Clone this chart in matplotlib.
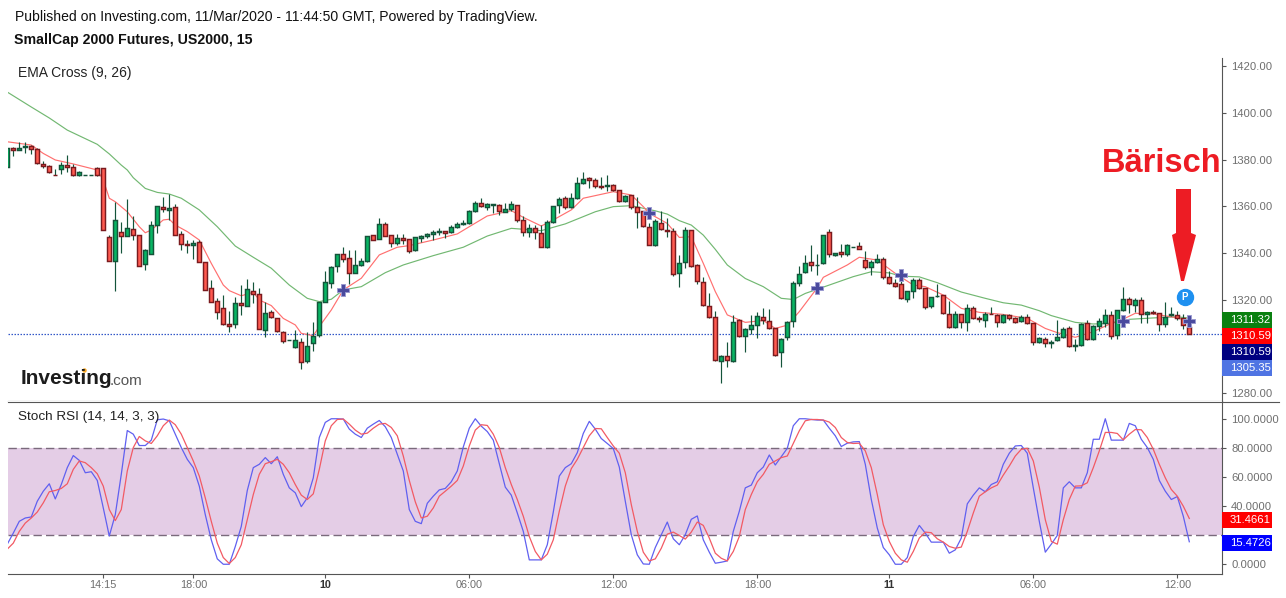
import matplotlib
matplotlib.use("Agg")
import matplotlib.pyplot as plt
from matplotlib.patches import Rectangle, Polygon
from matplotlib.lines import Line2D

plt.rcParams['font.family'] = ['Liberation Sans', 'DejaVu Sans']

# 15 minute candles
opens = [1376.9,1384.8,1384.2,1385.2,1385.8,1384.4,1377.9,1377.1,1373.5,1376.1,
 1377.5,1376.7,1373.2,1373.2,1373.2,1376.2,1376.2,1346.6,1336.4,1348.8,
 1347.4,1350.1,1347.5,1335.1,1339.7,1351.8,1359.5,1358.5,1359.5,1347.9,
 1343.6,1343.5,1344.5,1335.9,1324.8,1319.2,1316.2,1309.4,1309.4,1318.4,
 1317.1,1323.5,1322.2,1306.8,1314.5,1311.9,1305.9,1302.5,1299.5,1301.6,
 1293.5,1301.2,1304.6,1318.8,1326.9,1334.2,1339.4,1337.6,1331.5,1334.6,
 1336.6,1347.5,1345.8,1352.2,1347.5,1344.1,1346.2,1345.8,1341.1,1346.2,
 1347.1,1347.9,1349.1,1349.2,1348.8,1350.9,1352.2,1352.6,1357.8,1361.2,
 1359.5,1360.5,1360.4,1357.6,1358.6,1360.4,1353.9,1348.8,1350.5,1348.4,
 1342.4,1353.1,1360.4,1363.4,1359.5,1363.4,1369.8,1371.9,1371.1,1368.5,
 1368.5,1368.9,1366.8,1362.1,1364.6,1359.5,1357.8,1350.9,1343.5,1352.6,
 1349.8,1349.2,1331.2,1335.9,1349.6,1334.6,1327.4,1317.1,1312.4,1293.5,
 1295.6,1293.5,1311.1,1304.2,1307.2,1308.9,1312.4,1310.6,1307.6,1297.4,
 1303.8,1310.6,1326.9,1331.6,1335.9,1334.6,1335.5,1348.8,1338.9,1340.2,
 1339.4,1342.4,1342.8,1336.8,1333.8,1335.9,1337.2,1329.5,1326.9,1326.5,
 1320.1,1323.5,1328.2,1324.8,1317.1,1321.3,1321.8,1313.6,1308.1,1313.6,
 1310.2,1316.2,1311.9,1311.1,1313.8,1313.2,1310.2,1313.2,1311.9,1310.6,
 1312.4,1309.8,1301.6,1302.9,1301.2,1302.5,1303.8,1307.6,1299.9,1300.4,
 1309.8,1302.9,1308.5,1309.8,1313.2,1304.6,1315.4,1320.1,1317.5,1319.6,
 1313.6,1314.5,1314.1,1309.4,1313.2,1313.2,1311.9,1308.1]
highs = [1384.8,1385.5,1387.4,1387.4,1386.2,1384.8,1379.4,1377.5,1375.9,1379.1,
 1381.9,1377.9,1374.9,1373.2,1373.2,1376.7,1376.2,1347.6,1361.6,1353.1,
 1363.1,1355.6,1347.5,1341.5,1353.5,1359.9,1363.9,1365.1,1360.9,1349.2,
 1345.5,1345.5,1345.5,1335.9,1328.4,1320.5,1321.9,1315.1,1320.9,1326.2,
 1328.8,1327.5,1324.9,1318.8,1315.4,1311.9,1306.4,1302.5,1306.9,1303.4,
 1306.1,1310.2,1319.1,1332.2,1334.4,1339.4,1342.4,1341.2,1341.2,1337.8,
 1347.2,1347.5,1354.9,1353.2,1347.5,1348.1,1348.1,1345.8,1346.8,1347.5,
 1348.5,1349.6,1350.6,1349.2,1351.8,1353.1,1353.9,1358.4,1362.2,1363.5,
 1361.2,1360.9,1360.8,1361.2,1362.2,1360.4,1355.6,1352.2,1351.8,1352.1,
 1353.9,1360.2,1363.9,1364.2,1365.5,1372.6,1374.5,1372.6,1371.9,1372.4,
 1373.4,1369.4,1366.8,1364.8,1364.6,1363.8,1357.8,1352.6,1354.4,1357.8,
 1354.8,1350.6,1339.1,1351.2,1349.6,1335.1,1329.5,1322.6,1314.9,1296.1,
 1301.6,1313.2,1311.5,1307.6,1313.2,1314.6,1316.2,1315.8,1307.6,1303.4,
 1310.6,1327.9,1334.2,1338.9,1343.2,1339.4,1347.5,1350.1,1339.8,1343.6,
 1343.6,1342.4,1344.5,1340.6,1336.9,1339.4,1338.1,1332.1,1328.7,1330.5,
 1323.5,1329.1,1329.1,1324.8,1320.9,1326.5,1321.8,1319.2,1314.9,1313.6,
 1317.9,1317.2,1312.8,1314.5,1316.6,1313.6,1313.6,1313.6,1312.4,1313.2,
 1313.6,1309.8,1304.1,1303.8,1302.6,1311.1,1308.1,1308.5,1302.9,1309.8,
 1311.1,1308.9,1311.9,1315.8,1314.9,1315.4,1325.4,1320.9,1320.5,1320.9,
 1315.2,1315.4,1314.1,1318.8,1316.6,1314.9,1313.6,1308.1]
lows = [1376.9,1381.5,1384.1,1382.9,1382.4,1377.9,1376.5,1374.4,1373.2,1373.7,
 1374.8,1373.1,1373.1,1373.2,1373.2,1373.1,1349.6,1336.4,1323.8,1340.1,
 1347.4,1345.5,1334.2,1332.6,1339.4,1348.6,1357.5,1354.1,1347.5,1341.2,
 1339.9,1337.5,1335.9,1323.9,1318.8,1311.8,1309.2,1306.2,1307.9,1313.4,
 1317.1,1318.6,1307.2,1304.1,1312.2,1305.9,1301.5,1302.5,1299.4,1290.4,
 1292.6,1298.1,1303.8,1318.8,1325.1,1331.8,1336.1,1326.6,1331.5,1334.4,
 1336.2,1345.6,1345.8,1347.2,1342.6,1343.2,1343.8,1340.1,1340.9,1344.6,
 1346.2,1345.5,1347.8,1346.4,1348.5,1350.5,1352.1,1352.5,1357.6,1359.8,
 1358.4,1357.2,1356.2,1357.5,1358.1,1353.1,1347.4,1346.6,1345.9,1342.4,
 1342.2,1352.6,1356.9,1358.9,1359.4,1363.2,1369.6,1367.8,1367.6,1367.4,
 1366.6,1366.6,1361.9,1361.9,1358.6,1350.5,1351.2,1343.2,1343.1,1349.8,
 1346.6,1330.1,1325.5,1333.4,1334.1,1326.6,1317.4,1312.2,1293.8,1284.4,
 1291.2,1293.4,1304.1,1297.6,1305.1,1303.4,1309.5,1307.5,1295.9,1291.2,
 1302.6,1308.4,1325.9,1331.5,1332.4,1330.4,1335.4,1338.4,1338.8,1338.1,
 1338.8,1342.4,1341.5,1332.9,1330.4,1335.8,1328.8,1326.8,1325.4,1320.4,
 1319.1,1320.5,1324.6,1315.8,1316.2,1321.2,1313.9,1307.9,1307.9,1307.9,
 1306.6,1311.8,1310.2,1308.4,1313.6,1308.4,1309.8,1311.1,1310.1,1310.4,
 1309.6,1300.6,1301.5,1299.5,1299.4,1302.4,1303.6,1299.8,1298.1,1300.2,
 1302.8,1302.8,1306.6,1308.4,1303.2,1302.9,1315.2,1314.1,1314.6,1309.8,
 1309.8,1313.8,1306.6,1308.4,1313.1,1311.1,1307.4,1305.3]
closes = [1384.8,1384.2,1384.8,1385.8,1384.4,1378.4,1377.1,1374.5,1373.2,1377.5,
 1376.7,1373.2,1374.5,1373.2,1373.2,1373.2,1349.6,1336.4,1353.9,1347.4,
 1350.5,1347.8,1334.2,1341.1,1351.8,1359.9,1358.9,1359.1,1347.5,1343.6,
 1343.5,1344.1,1335.9,1323.9,1319.1,1314.5,1309.4,1308.8,1318.4,1317.5,
 1324.4,1322.5,1307.2,1314.1,1312.4,1306.4,1302.4,1302.5,1302.5,1293.1,
 1299.9,1304.2,1319.1,1327.4,1333.8,1339.4,1337.5,1331.5,1334.6,1336.4,
 1347.1,1345.6,1352.2,1347.4,1344.1,1346.2,1345.6,1340.9,1346.6,1347.1,
 1347.9,1348.8,1349.2,1348.6,1350.9,1352.2,1352.6,1357.8,1361.2,1359.9,
 1360.8,1360.8,1357.8,1358.6,1360.8,1353.9,1348.8,1350.5,1348.8,1342.6,
 1353.1,1359.9,1362.9,1359.5,1363.4,1369.8,1371.5,1371.1,1368.5,1368.1,
 1368.9,1366.8,1362.1,1364.2,1359.5,1357.4,1351.4,1343.5,1353.5,1350.1,
 1349.5,1331.1,1335.5,1349.6,1334.2,1327.8,1317.5,1312.4,1293.9,1295.6,
 1293.9,1310.2,1304.2,1307.2,1308.9,1312.8,1311.1,1307.6,1296.1,1302.9,
 1310.2,1326.9,1330.8,1335.5,1334.6,1334.6,1347.5,1339.4,1339.8,1339.4,
 1343.2,1342.4,1341.5,1333.8,1335.9,1337.2,1329.5,1326.9,1325.9,1320.5,
 1323.5,1328.2,1324.8,1316.7,1320.9,1321.4,1314.1,1308.1,1313.6,1310.2,
 1316.2,1311.9,1311.5,1313.6,1313.6,1310.2,1313.2,1311.9,1310.2,1312.4,
 1309.8,1301.6,1303.4,1301.2,1301.9,1303.8,1307.2,1299.9,1300.4,1309.4,
 1302.9,1308.5,1310.6,1313.2,1304.2,1315.4,1320.1,1317.9,1319.6,1313.6,
 1314.5,1314.1,1309.4,1312.4,1313.6,1311.9,1308.9,1305.4]

# EMA lines, read at the bars where they bend
ema9_bars = [0,4,6,8,11,15,16,17,18,20,22,23,24,26,27,28,30,32,34,36,37,39,41,42,44,46,48,49,51,52,54,
 56,59,62,65,67,71,75,77,80,84,86,89,91,94,96,101,104,106,107,110,112,114,116,118,120,123,126,128,130,
 132,135,136,140,142,145,148,151,153,156,159,162,166,170,173,175,178,181,184,186,188,191,194,197]
ema9_vals = [1387.6,1386.2,1382.6,1379.8,1378.1,1375.5,1371.2,1363.4,1361.9,1357.6,1351.2,1348.6,1349.8,1354.1,1354.4,1351.9,
 1349.1,1345.5,1335.5,1326.2,1323.8,1321.6,1323.1,1319.8,1317.4,1311.9,1309.1,1305.5,1304.5,1308.4,1315.5,
 1324.1,1329.1,1339.1,1342.4,1343.1,1345.5,1348.1,1351.2,1355.8,1358.1,1355.2,1351.5,1354.1,1358.4,1363.4,1366.2,1364.8,1359.8,
 1356.9,1352.6,1346.6,1346.9,1335.5,1323.4,1313.4,1310.2,1311.0,1307.6,1309.0,1314.8,1325.0,1329.5,1334.8,1338.1,1336.9,1331.2,
 1326.2,1325.5,1321.9,1316.2,1314.5,1313.6,1311.9,1307.6,1305.8,1303.8,1306.2,1309.8,1311.6,1314.1,1313.8,1312.6,1310.9]
ema26_bars = [0,4,7,10,15,17,19,20,21,23,25,27,29,32,35,38,41,44,47,50,52,54,56,59,63,66,71,76,80,84,89,93,98,101,104,
 108,110,112,114,116,118,120,123,126,129,131,133,137,141,144,147,149,152,155,159,163,166,169,172,174,178,181,184,187,191,195,197]
ema26_vals = [1408.9,1402.5,1397.8,1392.6,1386.5,1382.4,1377.6,1375.5,1372.2,1367.6,1365.9,1365.2,1363.4,1358.4,1351.2,1342.9,1338.1,1333.4,
 1326.2,1320.5,1319.1,1320.1,1324.1,1325.5,1331.5,1334.8,1338.8,1342.4,1347.2,1350.5,1349.5,1352.4,1357.6,1359.8,1360.2,
 1358.0,1356.6,1353.8,1351.9,1347.6,1341.5,1334.8,1329.0,1325.5,1320.5,1320.0,1322.6,1326.2,1329.8,1331.9,1331.4,1330.0,1329.7,
 1327.2,1323.2,1320.5,1318.6,1317.6,1315.2,1313.1,1310.2,1309.5,1309.8,1311.5,1312.1,1312.6,1312.0]

cross_bars = [56, 107, 135, 149, 186, 197]
cross_vals = [1324.0, 1357.0, 1325.0, 1330.5, 1311.0, 1310.7]

# Stoch RSI
stoch_k = [13.8,21.4,29.5,31.8,32.5,43.3,50.2,55.3,44.9,54.8,
 66.4,74.7,71.4,62.9,63.6,57.6,38.7,19.4,34.1,61.8,
 91.9,89.4,81.6,81.6,85.3,99.3,99.8,98.6,89.4,80.2,
 72.1,66.4,53.7,34.1,16.8,3.7,0,0,12.2,26.0,
 50.7,66.4,68.7,73.3,69.1,73.9,61.8,52.5,49.1,39.6,
 45.6,59.4,87.1,97.5,100,100,99.8,92.9,89.4,87.1,
 93.5,96.3,98.8,94.5,87.1,75.6,64.1,37.6,29.5,27.9,
 41.9,46.8,51.1,52.1,56.7,64.1,80.6,93.5,100,94.9,
 91.2,85.3,69.1,53.0,47.5,35.3,22.6,3.0,3.0,3.0,
 13.4,35.9,60.6,66.4,69.1,76.7,89.9,98.2,92.9,86.4,
 83.0,79.5,66.8,43.3,20.3,6.5,0.2,0,11.5,20.3,
 29.0,17.5,13.4,20.3,30.9,33.2,16.8,8.3,0.7,1.4,
 2.3,22.6,36.4,52.5,54.4,62.9,66.8,75.1,68.2,73.9,
 79.7,95.2,100,100,99.5,99.1,99.1,93.5,88.3,80.9,
 83.2,84.1,84.3,68.7,44.5,24.9,11.5,6.5,0,0,
 4.6,19.1,26.7,21.4,15.2,15.2,15.2,7.6,9.9,18.0,
 41.5,47.5,52.5,49.8,54.8,56.7,68.7,76.3,81.3,81.6,
 76.3,52.5,29.5,8.3,13.8,19.8,52.5,56.7,52.5,52.5,
 62.9,85.9,85.9,100,85.3,85.3,85.3,96.8,95.2,85.9,
 80.2,72.1,57.6,50.2,44.5,46.5,33.0,15.47]
stoch_d = [10.4,14.5,22.6,28.3,31.8,35.9,42.2,49.8,50.7,52.1,
 55.3,65.2,71.0,69.8,66.4,62.2,53.7,37.6,30.0,37.6,
 64.1,80.2,87.8,84.8,83.0,88.3,95.2,99.1,95.9,89.4,
 80.2,71.0,60.6,45.6,29.5,14.5,4.6,0.5,4.6,13.4,
 30.6,47.9,61.8,69.1,70.5,72.1,68.7,62.9,54.8,47.5,
 44.5,48.4,65.2,84.8,95.2,99.5,99.8,96.3,92.2,89.4,
 90.1,93.5,96.3,96.8,94.0,88.3,74.4,57.6,42.9,31.8,
 33.0,38.7,46.8,50.2,53.7,57.6,67.5,81.3,92.2,95.9,
 95.4,89.4,80.2,66.4,54.8,44.5,33.0,19.1,8.8,3.0,
 6.9,16.8,36.4,53.7,65.7,72.1,80.2,88.3,93.3,93.1,
 87.1,81.3,76.3,62.9,41.0,22.6,8.3,2.3,3.7,11.0,
 20.7,22.1,19.8,17.3,22.1,29.0,26.7,18.0,7.6,4.1,
 2.3,8.8,19.1,37.6,47.9,56.7,61.8,68.7,71.0,73.3,
 74.4,83.0,91.7,98.6,99.5,99.5,99.1,97.7,94.0,87.1,
 83.7,83.0,83.2,77.9,66.4,47.9,27.2,15.7,7.6,3.0,
 1.4,8.8,18.0,22.1,21.7,17.5,15.2,12.2,11.0,11.8,
 22.6,35.2,46.8,49.8,52.5,54.4,61.3,67.5,74.4,79.0,
 79.7,71.0,53.0,30.6,15.7,13.8,30.6,44.5,53.7,53.9,
 56.0,66.4,77.9,90.6,90.6,89.9,85.5,89.4,92.6,92.4,
 87.1,79.0,68.7,59.4,51.4,46.8,39.9,31.47]

price_ticks = [1280, 1320, 1340, 1360, 1380, 1400, 1420]
stoch_ticks = [0, 40, 60, 80, 100]
time_bars = [16, 31, 53, 77, 101, 125, 147, 171, 195]
time_labels = ["14:15", "18:00", "10", "06:00", "12:00", "18:00", "11", "06:00", "12:00"]
bold_times = ["10", "11"]

WIDTH, HEIGHT = 1286, 598
UP, DOWN = "#08b563", "#ff5a50"
UP_EDGE, DOWN_EDGE = "#14543a", "#7a1a1e"
AXIS = "#555555"
TICK_TEXT = "#6e6e6e"

def fx(px):
    return px / WIDTH

def fy(py):
    return 1 - py / HEIGHT

fig = plt.figure(figsize=(WIDTH / 100, HEIGHT / 100), dpi=100)
ax = fig.add_axes([fx(8), fy(401), fx(1214), (401 - 58) / HEIGHT])
ax2 = fig.add_axes([fx(8), fy(574), fx(1214), (574 - 401) / HEIGHT])

bars = list(range(len(closes)))

# price pane
for i in bars:
    up = closes[i] >= opens[i]
    ax.vlines(i, lows[i], highs[i], color=UP_EDGE, lw=0.85, zorder=2)
    ax.bar(i, abs(closes[i] - opens[i]), bottom=min(opens[i], closes[i]), width=0.7,
           color=UP if up else DOWN, edgecolor=UP_EDGE if up else DOWN_EDGE, lw=1.05, zorder=3)

ax.plot(ema26_bars, ema26_vals, color="#72b872", lw=0.85, zorder=1.5)
ax.plot(ema9_bars, ema9_vals, color="#ff7070", lw=0.85, zorder=1.5)
ax.axhline(closes[-1], color="#3358c8", lw=0.9, ls=(0, (1.2, 1.2)), zorder=1)
ax.plot(cross_bars, cross_vals, ls="none", marker="P", ms=9, color="#4a4a9e", mec="#9a9ad0",
        mew=0.7, zorder=5, clip_on=False)

ax.set_xlim(0.12, 202.45)
ax.set_ylim(1276.5, 1423.5)
ax.set_xticks([])
ax.yaxis.tick_right()
ax.set_yticks(price_ticks)
ax.set_yticklabels(["%.2f" % t for t in price_ticks])

# stoch pane
ax2.axhspan(20, 80, color="#e4cde6", lw=0, zorder=0)
ax2.axhline(80, color="#7a6a7c", lw=1, ls=(0, (6, 3)), zorder=1)
ax2.axhline(20, color="#7a6a7c", lw=1, ls=(0, (6, 3)), zorder=1)
ax2.plot(bars, stoch_k, color="#6060f0", lw=0.9, zorder=2)
ax2.plot(bars, stoch_d, color="#f25a64", lw=0.9, zorder=3)
ax2.set_xlim(0.12, 202.45)
ax2.set_ylim(-6.7, 112.2)
ax2.yaxis.tick_right()
ax2.set_yticks(stoch_ticks)
ax2.set_yticklabels(["%.4f" % t for t in stoch_ticks])
ax2.set_xticks(time_bars)
ax2.set_xticklabels(time_labels)

for a in (ax, ax2):
    a.spines["top"].set_visible(False)
    a.spines["left"].set_visible(False)
    a.spines["right"].set_color(AXIS)
    a.spines["bottom"].set_color(AXIS)
    a.tick_params(axis="y", length=3, width=0.8, color=AXIS, labelcolor=TICK_TEXT, labelsize=8.1, pad=3.6)
    a.tick_params(axis="x", length=3, width=0.8, color=AXIS, labelcolor=TICK_TEXT, labelsize=7.8, pad=1.5)

for lab in ax2.get_xticklabels():
    if lab.get_text() in bold_times:
        lab.set_fontweight("bold")
        lab.set_color("#333333")

# separator runs on under the scale
fig.add_artist(Line2D([fx(8), fx(1279)], [fy(401.5), fy(401.5)], color=AXIS, lw=0.8, zorder=2))

# texts
fig.text(fx(15), fy(17), "Published on Investing.com, 11/Mar/2020 - 11:44:50 GMT, Powered by TradingView.",
         fontsize=10.05, color="#111111", va="center")
fig.text(fx(14), fy(40), "SmallCap 2000 Futures, US2000, 15", fontsize=10.2, fontweight="bold",
         color="#111111", va="center")
fig.text(fx(18), fy(73.5), "EMA Cross (9, 26)", fontsize=10, color="#222222", va="center")
fig.text(fx(18), fy(417), "Stoch RSI (14, 14, 3, 3)", fontsize=9.7, color="#222222", va="center")

# price tags on the scale
tags = [("1311.32", 312, "#0a8010"), ("1310.59", 328, "#ff0000"), ("1310.59", 344, "#000080"),
        ("1305.35", 360, "#4f74e3"), ("31.4661", 512, "#ff0000"), ("15.4726", 535, "#0000ff")]
for text, top, col in tags:
    fig.add_artist(Rectangle((fx(1222), fy(top + 16)), 50 / WIDTH, 16 / HEIGHT, color=col, lw=0,
                             transform=fig.transFigure))
    fig.text(fx(1230), fy(top + 8), text, fontsize=8.1, color="white", va="center")

# annotation drawn on top, in picture pixels
over = fig.add_axes([0, 0, 1, 1], facecolor="none")
over.set_xlim(0, WIDTH)
over.set_ylim(HEIGHT, 0)
over.axis("off")

over.text(21, 379, "Investing", fontsize=15, fontweight="bold", color="#1c1c1c", va="center")
over.text(110, 381, ".com", fontsize=11, color="#555555", va="center")
over.plot([83.5], [369.5], marker="o", ms=3.2, color="#f5a623", mew=0)

over.text(1102, 163, "Bärisch", fontsize=23.5, fontweight="bold", color="#ed1c24", va="center")
arrow = [(1176, 189), (1191, 189), (1191, 233), (1196, 235), (1184, 281), (1181, 281), (1172, 235), (1176, 233)]
over.add_patch(Polygon(arrow, closed=True, color="#ed1c24", lw=0))
over.plot([1184.5], [297], marker="o", ms=11.5, color="#1e90f0", mec="#1e90f0")
over.text(1184.5, 297.3, "P", color="white", fontsize=7, fontweight="bold", ha="center", va="center")

fig.savefig("out.png", dpi=100)
